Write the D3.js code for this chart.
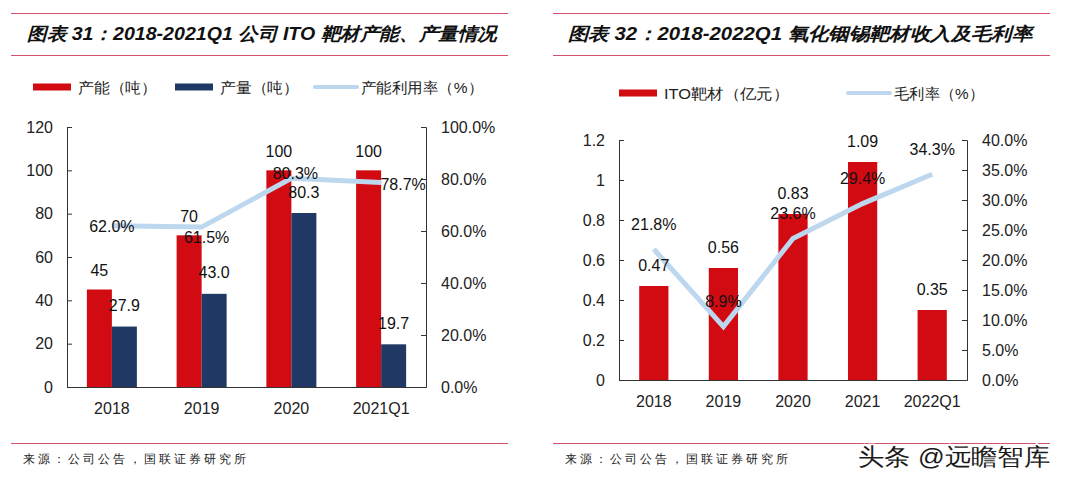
<!DOCTYPE html>
<html><head><meta charset="utf-8">
<script src="https://cdn.jsdelivr.net/npm/d3@7"></script>
<style>body{margin:0;background:#fff}svg{display:block}text{font-family:"Liberation Sans",Arial,sans-serif}</style>
</head><body><svg id="c" width="1080" height="482"></svg>
<script>
// ---- data: chart 31 ----
const cats1 = ["2018","2019","2020","2021Q1"];
const capacity = [45,70,100,100];
const output = [27.9,43.0,80.3,19.7];
const utilRate = [62.0,61.5,80.3,78.7];
const leftTicks1 = [0,20,40,60,80,100,120];
const rightTicks1 = [0,20,40,60,80,100];
// ---- data: chart 32 ----
const cats2 = ["2018","2019","2020","2021","2022Q1"];
const revenue = [0.47,0.56,0.83,1.09,0.35];
const margin = [21.8,8.9,23.6,29.4,34.3];
const leftTicks2 = [0,0.2,0.4,0.6,0.8,1,1.2];
const rightTicks2 = [0,5,10,15,20,25,30,35,40];

const RED="#d20a11", NAVY="#203864", LBLUE="#bdd7ee", RULE="#d4506b", CJK='"Noto Sans CJK SC",sans-serif';
const svg=d3.select("#c");

function header(x0,x1,title,tx,tw){
  svg.append("line").attr("x1",x0).attr("x2",x1).attr("y1",13.5).attr("y2",13.5).attr("stroke",RULE).attr("stroke-width",1.2);
  svg.append("line").attr("x1",x0).attr("x2",x1).attr("y1",55.5).attr("y2",55.5).attr("stroke",RULE).attr("stroke-width",1.2);
  svg.append("text").attr("x",tx).attr("y",34).attr("dominant-baseline","central")
    .attr("font-family",CJK).attr("font-weight","bold").attr("font-style","italic").attr("font-size",18)
    .attr("textLength",tw).attr("lengthAdjust","spacingAndGlyphs").attr("fill","#111").text(title);
  svg.append("line").attr("x1",x0).attr("x2",x1).attr("y1",443.5).attr("y2",443.5).attr("stroke",RULE).attr("stroke-width",1.2);
  svg.append("text").attr("x",x0+12).attr("y",459).attr("dominant-baseline","central")
    .attr("font-family",CJK).attr("font-size",12).attr("textLength",223).attr("lengthAdjust","spacing")
    .attr("fill","#222").text("来源：公司公告，国联证券研究所");
}
function legendRect(x,y,color,label,tw){
  svg.append("rect").attr("x",x).attr("y",y-3.5).attr("width",38).attr("height",7).attr("fill",color);
  svg.append("text").attr("x",x+45).attr("y",y).attr("dominant-baseline","central").attr("font-family",CJK)
    .attr("font-size",15).attr("textLength",tw).attr("lengthAdjust","spacingAndGlyphs").attr("fill","#222").text(label);
}
function legendLine(x,y,label,tw){
  svg.append("line").attr("x1",x).attr("x2",x+42).attr("y1",y).attr("y2",y).attr("stroke",LBLUE).attr("stroke-width",4).attr("stroke-linecap","round");
  svg.append("text").attr("x",x+46).attr("y",y).attr("dominant-baseline","central").attr("font-family",CJK)
    .attr("font-size",15).attr("textLength",tw).attr("lengthAdjust","spacingAndGlyphs").attr("fill","#222").text(label);
}
function axes(x0,x1,yL,yR,lt,rt,lfmt,rfmt,cats,x,xLabY){
  const gl=svg.append("g").attr("transform",`translate(${x0},0)`)
    .call(d3.axisRight(yL).tickValues(lt).tickSize(5).tickFormat(""));
  gl.select(".domain").attr("stroke","#333");
  gl.selectAll(".tick line").attr("stroke","#333");
  lt.forEach(v=>svg.append("text").attr("x",x0-14).attr("y",yL(v)).attr("text-anchor","end").attr("dominant-baseline","central").attr("font-size",16).attr("fill","#222").text(lfmt(v)));
  const gr=svg.append("g").attr("transform",`translate(${x1},0)`)
    .call(d3.axisLeft(yR).tickValues(rt).tickSize(5).tickFormat(""));
  gr.select(".domain").attr("stroke","#333");
  gr.selectAll(".tick line").attr("stroke","#333");
  rt.forEach(v=>svg.append("text").attr("x",x1+15).attr("y",yR(v)).attr("dominant-baseline","central").attr("font-size",16).attr("fill","#222").text(rfmt(v)));
  const gb=svg.append("g").attr("transform",`translate(0,${yL.range()[0]})`).call(d3.axisBottom(x).tickSize(0).tickFormat(""));
  gb.select(".domain").attr("stroke","#333");
  cats.forEach(c=>svg.append("text").attr("x",x(c)+x.bandwidth()/2).attr("y",xLabY).attr("text-anchor","middle").attr("dominant-baseline","central").attr("font-size",16).attr("fill","#222").text(c));
}
function lbl(x,y,t){svg.append("text").attr("x",x).attr("y",y).attr("text-anchor","middle").attr("dominant-baseline","central").attr("font-size",16).attr("fill","#111").text(t);}

// ================= Chart 31 =================
header(11,508,"图表 31：2018-2021Q1 公司 ITO 靶材产能、产量情况",27,470);
legendRect(33,87,RED,"产能（吨）",79);
legendRect(175,87,NAVY,"产量（吨）",79);
legendLine(315,87,"产能利用率（%）",122);
{
  const x=d3.scaleBand().domain(cats1).range([67,426]).padding(0);
  const sub=d3.scaleBand().domain(["cap","out"]).range([0,x.bandwidth()]).paddingInner(0).paddingOuter(0.795);
  const yL=d3.scaleLinear().domain([0,120]).range([387,127]);
  const yR=d3.scaleLinear().domain([0,100]).range([387,127]);
  svg.selectAll(".b1").data(capacity).enter().append("rect").attr("fill",RED)
    .attr("x",(d,i)=>x(cats1[i])+sub("cap")).attr("width",sub.bandwidth()).attr("y",d=>yL(d)).attr("height",d=>yL(0)-yL(d));
  svg.selectAll(".b2").data(output).enter().append("rect").attr("fill",NAVY)
    .attr("x",(d,i)=>x(cats1[i])+sub("out")).attr("width",sub.bandwidth()).attr("y",d=>yL(d)).attr("height",d=>yL(0)-yL(d));
  axes(67,426,yL,yR,leftTicks1,rightTicks1,d=>d,d=>d3.format(".1f")(d)+"%",cats1,x,408);
  const cx=c=>x(c)+x.bandwidth()/2;
  svg.append("path").datum(utilRate).attr("fill","none").attr("stroke",LBLUE).attr("stroke-width",5)
    .attr("d",d3.line().x((d,i)=>cx(cats1[i])).y(d=>yR(d)));
  capacity.forEach((v,i)=>lbl(x(cats1[i])+sub("cap")+sub.bandwidth()/2,yL(v)-19,d3.format("d")(v)));
  output.forEach((v,i)=>lbl(x(cats1[i])+sub("out")+sub.bandwidth()/2,yL(v)-21,d3.format(".1f")(v)));
  const nudge1=[[0,1],[5,10],[4,-5],[22,2]];
  utilRate.forEach((v,i)=>lbl(cx(cats1[i])+nudge1[i][0],yR(v)+nudge1[i][1],d3.format(".1f")(v)+"%"));
}

// ================= Chart 32 =================
header(553,1050,"图表 32：2018-2022Q1 氧化铟锡靶材收入及毛利率",568,464);
legendRect(619,93,RED,"ITO靶材（亿元）",125);
legendLine(848,93,"毛利率（%）",90);
{
  const x=d3.scaleBand().domain(cats2).range([619,967]).padding(0);
  const bw=x.bandwidth()*0.42;
  const yL=d3.scaleLinear().domain([0,1.2]).range([380,140]);
  const yR=d3.scaleLinear().domain([0,40]).range([380,140]);
  const cx=c=>x(c)+x.bandwidth()/2;
  svg.selectAll(".b3").data(revenue).enter().append("rect").attr("fill",RED)
    .attr("x",(d,i)=>cx(cats2[i])-bw/2).attr("width",bw).attr("y",d=>yL(d)).attr("height",d=>yL(0)-yL(d));
  axes(619,967,yL,yR,leftTicks2,rightTicks2,d=>d===0?"0":(Number.isInteger(d)?String(d):d3.format(".1f")(d)),d=>d3.format(".1f")(d)+"%",cats2,x,401);
  svg.append("path").datum(margin).attr("fill","none").attr("stroke",LBLUE).attr("stroke-width",5)
    .attr("d",d3.line().x((d,i)=>cx(cats2[i])).y(d=>yR(d)));
  revenue.forEach((v,i)=>lbl(cx(cats2[i]),yL(v)-21,d3.format(".2f")(v)));
  margin.forEach((v,i)=>lbl(cx(cats2[i]),yR(v)-25,d3.format(".1f")(v)+"%"));
}
// watermark
svg.append("text").attr("x",858).attr("y",456).attr("dominant-baseline","central").attr("font-family",CJK)
  .attr("font-size",24).attr("textLength",192).attr("lengthAdjust","spacingAndGlyphs")
  .attr("fill","#1a1a1a").attr("stroke","#fff").attr("stroke-width",3).attr("paint-order","stroke").text("头条 @远瞻智库");
</script></body></html>
